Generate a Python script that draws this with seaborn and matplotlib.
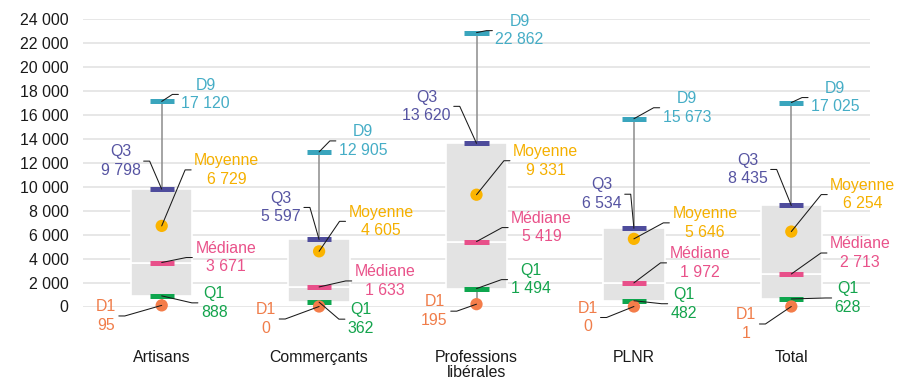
import numpy as np
import matplotlib
matplotlib.use("Agg")
import matplotlib.pyplot as plt
from matplotlib.lines import Line2D
from matplotlib.transforms import IdentityTransform
import seaborn as sns

# Distribution of income by professional group (deciles, quartiles, mean)
categories = ["Artisans", "Commerçants", "Professions\nlibérales", "PLNR", "Total"]
d1 = [95, 0, 195, 0, 1]
q1 = [888, 362, 1494, 482, 628]
mediane = [3671, 1633, 5419, 1972, 2713]
moyenne = [6729, 4605, 9331, 5646, 6254]
q3 = [9798, 5597, 13620, 6534, 8435]
d9 = [17120, 12905, 22862, 15673, 17025]
y_ticks = list(range(0, 24001, 2000))

# Label placement (pixel offsets from each marker: right, down)
label_offsets = {
    "D9":      [(44, -7), (44, -11), (43, -2), (53, -11), (44, -5)],
    "Q3":      [(-41, -28), (-38, -32), (-50, -37), (-32, -34), (-43.5, -36)],
    "Moyenne": [(65, -56), (62, -30), (69, -34), (71, -16), (71.5, -37)],
    "Médiane": [(64, -5), (66, -6), (65, -14), (66, -20), (69, -21)],
    "Q1":      [(52.5, 7), (42, 17), (54, -9), (50, 3), (56.5, -1)],
    "D1":      [(-56, 10.6), (-53, 12.5), (-42, 7), (-46.5, 11), (-45, 17.5)],
}

sns.set_theme(style="whitegrid")
plt.rcParams["font.family"] = ["Liberation Sans", "DejaVu Sans"]

FS = 11.4
fig = plt.figure(figsize=(8.98, 3.81), dpi=100)
ax = fig.add_axes([83 / 898, (381 - 306.5) / 381, 787 / 898, 287.5 / 381])

x = np.arange(len(categories))

# whiskers D1 -> D9
ax.vlines(x, d1, d9, color="#8C8C8C", lw=1.1, zorder=1.5)

# box: Q1 -> median and median -> Q3
box_w = 0.39
ax.bar(x, np.subtract(mediane, q1), bottom=q1, width=box_w, color="#E3E3E3",
       edgecolor="white", lw=1.2, zorder=2)
ax.bar(x, np.subtract(q3, mediane), bottom=mediane, width=box_w, color="#E3E3E3",
       edgecolor="white", lw=1.2, zorder=2)

dash_half = 0.077
dash_series = [
    ("D9", d9, "#3AA5BD"),
    ("Q3", q3, "#4E4C9C"),
    ("Médiane", mediane, "#E8508A"),
    ("Q1", q1, "#0EA64E"),
]
for _, vals, col in dash_series:
    ax.hlines(vals, x - dash_half, x + dash_half, color=col, lw=3.6, zorder=4,
              capstyle="butt")

sns.scatterplot(x=x, y=moyenne, color="#FBB400", s=78, edgecolor="none",
                zorder=5, ax=ax, clip_on=False, legend=False)
sns.scatterplot(x=x, y=d1, color="#F47D4A", s=78, edgecolor="none",
                zorder=5, ax=ax, clip_on=False, legend=False)

ax.set_xlim(-0.5, len(categories) - 0.5)
ax.set_ylim(0, 24000)
ax.set_yticks(y_ticks)
ax.set_yticklabels([f"{v:,}".replace(",", " ") for v in y_ticks])
ax.set_xticks(x)
ax.set_xticklabels(categories)
for lab in ax.get_xticklabels():
    lab.set_linespacing(1.02)
ax.tick_params(axis="y", length=0, pad=10.5, labelsize=FS, labelcolor="#1A1A1A")
ax.tick_params(axis="x", length=0, pad=31, labelsize=FS, labelcolor="#1A1A1A")
ax.xaxis.grid(False)
ax.yaxis.grid(True, color="#E5E5E5", lw=1.3)
ax.set_axisbelow(True)
for s in ax.spines.values():
    s.set_visible(False)
ax.set_xlabel("")
ax.set_ylabel("")

label_series = [
    ("D9", d9, "#45ADC6"),
    ("Q3", q3, "#5654A2"),
    ("Moyenne", moyenne, "#F5B000"),
    ("Médiane", mediane, "#E9528A"),
    ("Q1", q1, "#14A44D"),
    ("D1", d1, "#F07D4A"),
]

annots = []
for name, vals, col in label_series:
    for i, v in enumerate(vals):
        dx, dy = label_offsets[name][i]
        t = ax.annotate(f"{name}\n{v:,}".replace(",", " "), xy=(x[i], v),
                        xytext=(dx, -dy), textcoords="offset pixels",
                        ha="center", va="center", color=col, fontsize=FS,
                        linespacing=1.3, annotation_clip=False, zorder=7)
        annots.append((t, x[i], v))

# leader lines from each marker to its label
fig.canvas.draw()
renderer = fig.canvas.get_renderer()
for t, xi, v in annots:
    bb = t.get_window_extent(renderer)
    px, py = ax.transData.transform((xi, v))
    cy = (bb.y0 + bb.y1) / 2
    if bb.x0 > px:
        end_x = bb.x0 - 3
        elbow_x = end_x - 6
    else:
        end_x = bb.x1 + 3
        elbow_x = end_x + 6
    fig.add_artist(Line2D([px, elbow_x, end_x], [py, cy, cy],
                          transform=IdentityTransform(), color="#1A1A1A",
                          lw=0.75, zorder=6))

fig.savefig("out.png", dpi=100)
